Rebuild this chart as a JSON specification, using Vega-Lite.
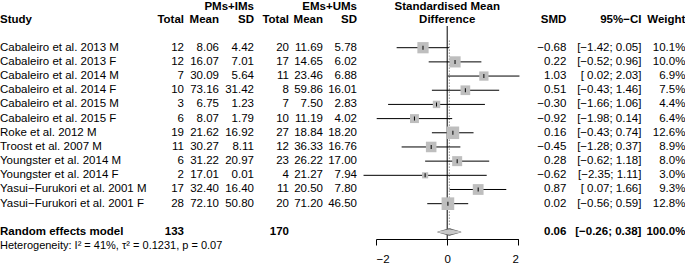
{
  "$schema": "https://vega.github.io/schema/vega-lite/v6.json",
  "background": "white",
  "padding": 0,
  "autosize": {"type": "pad"},
  "spacing": 0,
  "bounds": "flush",
  "config": {
    "view": {"stroke": null},
    "text": {"font": "Liberation Sans", "fontSize": 11.5, "baseline": "middle", "color": "black"},
    "axis": {"labelFont": "Liberation Sans", "labelFontSize": 11.5, "labelColor": "black"}
  },
  "datasets": {
    "studies": [
      {"r": 0, "study": "Cabaleiro et al. 2013 M", "n1": 12, "m1": 8.06, "sd1": 4.42, "n2": 20, "m2": 11.69, "sd2": 5.78, "smd": -0.68, "lo": -1.42, "hi": 0.05, "ci": "[−1.42; 0.05]", "w": 0.101},
      {"r": 1, "study": "Cabaleiro et al. 2013 F", "n1": 12, "m1": 16.07, "sd1": 7.01, "n2": 17, "m2": 14.65, "sd2": 6.02, "smd": 0.22, "lo": -0.52, "hi": 0.96, "ci": "[−0.52; 0.96]", "w": 0.100},
      {"r": 2, "study": "Cabaleiro et al. 2014 M", "n1": 7, "m1": 30.09, "sd1": 5.64, "n2": 11, "m2": 23.46, "sd2": 6.88, "smd": 1.03, "lo": 0.02, "hi": 2.03, "ci": "[ 0.02; 2.03]", "w": 0.069},
      {"r": 3, "study": "Cabaleiro et al. 2014 F", "n1": 10, "m1": 73.16, "sd1": 31.42, "n2": 8, "m2": 59.86, "sd2": 16.01, "smd": 0.51, "lo": -0.43, "hi": 1.46, "ci": "[−0.43; 1.46]", "w": 0.075},
      {"r": 4, "study": "Cabaleiro et al. 2015 M", "n1": 3, "m1": 6.75, "sd1": 1.23, "n2": 7, "m2": 7.50, "sd2": 2.83, "smd": -0.30, "lo": -1.66, "hi": 1.06, "ci": "[−1.66; 1.06]", "w": 0.044},
      {"r": 5, "study": "Cabaleiro et al. 2015 F", "n1": 6, "m1": 8.07, "sd1": 1.79, "n2": 10, "m2": 11.19, "sd2": 4.02, "smd": -0.92, "lo": -1.98, "hi": 0.14, "ci": "[−1.98; 0.14]", "w": 0.064},
      {"r": 6, "study": "Roke et al. 2012 M", "n1": 19, "m1": 21.62, "sd1": 16.92, "n2": 27, "m2": 18.84, "sd2": 18.20, "smd": 0.16, "lo": -0.43, "hi": 0.74, "ci": "[−0.43; 0.74]", "w": 0.126},
      {"r": 7, "study": "Troost et al. 2007 M", "n1": 11, "m1": 30.27, "sd1": 8.11, "n2": 12, "m2": 36.33, "sd2": 16.76, "smd": -0.45, "lo": -1.28, "hi": 0.37, "ci": "[−1.28; 0.37]", "w": 0.089},
      {"r": 8, "study": "Youngster et al. 2014 M", "n1": 6, "m1": 31.22, "sd1": 20.97, "n2": 23, "m2": 26.22, "sd2": 17.00, "smd": 0.28, "lo": -0.62, "hi": 1.18, "ci": "[−0.62; 1.18]", "w": 0.080},
      {"r": 9, "study": "Youngster et al. 2014 F", "n1": 2, "m1": 17.01, "sd1": 0.01, "n2": 4, "m2": 21.27, "sd2": 7.94, "smd": -0.62, "lo": -2.35, "hi": 1.11, "ci": "[−2.35; 1.11]", "w": 0.030},
      {"r": 10, "study": "Yasui−Furukori et al. 2001 M", "n1": 17, "m1": 32.40, "sd1": 16.40, "n2": 11, "m2": 20.50, "sd2": 7.80, "smd": 0.87, "lo": 0.07, "hi": 1.66, "ci": "[ 0.07; 1.66]", "w": 0.093},
      {"r": 11, "study": "Yasui−Furukori et al. 2001 F", "n1": 28, "m1": 72.10, "sd1": 50.80, "n2": 20, "m2": 71.20, "sd2": 46.50, "smd": 0.02, "lo": -0.56, "hi": 0.59, "ci": "[−0.56; 0.59]", "w": 0.128}
    ],
    "pooled": [
      {"r": 13, "label": "Random effects model", "n1": 133, "n2": 170, "smd": 0.06, "lo": -0.26, "hi": 0.38, "ci": "[−0.26; 0.38]", "w": 1.0, "het": "Heterogeneity: I² = 41%, τ² = 0.1231, p = 0.07"}
    ],
    "headers": [
      {"study": "Study", "total": "Total", "mean": "Mean", "sd": "SD", "g1": "PMs+IMs", "g2": "EMs+UMs", "t1": "Standardised Mean", "t2": "Difference", "smd": "SMD", "ci": "95%−CI", "w": "Weight"}
    ]
  },
  "hconcat": [
    {
      "width": 375.2,
      "height": 238,
      "layer": [
        {"data": {"name": "studies"}, "mark": {"type": "text", "align": "left"},
         "encoding": {"x": {"datum": 0, "type": "quantitative", "scale": {"domain": [0, 375.2], "nice": false, "zero": false}, "axis": null},
                      "y": {"field": "r", "type": "quantitative", "scale": {"domain": [-3.2934, 13.491], "reverse": true, "nice": false, "zero": false}, "axis": null},
                      "text": {"field": "study"}}},
        {"data": {"name": "studies"}, "mark": {"type": "text", "align": "right"},
         "encoding": {"x": {"datum": 184, "type": "quantitative", "axis": null}, "y": {"field": "r", "type": "quantitative", "axis": null}, "text": {"field": "n1", "type": "quantitative", "format": "d"}}},
        {"data": {"name": "studies"}, "mark": {"type": "text", "align": "right"},
         "encoding": {"x": {"datum": 219, "type": "quantitative", "axis": null}, "y": {"field": "r", "type": "quantitative", "axis": null}, "text": {"field": "m1", "type": "quantitative", "format": ".2f"}}},
        {"data": {"name": "studies"}, "mark": {"type": "text", "align": "right"},
         "encoding": {"x": {"datum": 254, "type": "quantitative", "axis": null}, "y": {"field": "r", "type": "quantitative", "axis": null}, "text": {"field": "sd1", "type": "quantitative", "format": ".2f"}}},
        {"data": {"name": "studies"}, "mark": {"type": "text", "align": "right"},
         "encoding": {"x": {"datum": 289, "type": "quantitative", "axis": null}, "y": {"field": "r", "type": "quantitative", "axis": null}, "text": {"field": "n2", "type": "quantitative", "format": "d"}}},
        {"data": {"name": "studies"}, "mark": {"type": "text", "align": "right"},
         "encoding": {"x": {"datum": 323, "type": "quantitative", "axis": null}, "y": {"field": "r", "type": "quantitative", "axis": null}, "text": {"field": "m2", "type": "quantitative", "format": ".2f"}}},
        {"data": {"name": "studies"}, "mark": {"type": "text", "align": "right"},
         "encoding": {"x": {"datum": 357, "type": "quantitative", "axis": null}, "y": {"field": "r", "type": "quantitative", "axis": null}, "text": {"field": "sd2", "type": "quantitative", "format": ".2f"}}},
        {"data": {"name": "pooled"}, "mark": {"type": "text", "align": "left", "fontWeight": "bold"},
         "encoding": {"x": {"datum": 0, "type": "quantitative", "axis": null}, "y": {"field": "r", "type": "quantitative", "axis": null}, "text": {"field": "label"}}},
        {"data": {"name": "pooled"}, "mark": {"type": "text", "align": "right", "fontWeight": "bold"},
         "encoding": {"x": {"datum": 184, "type": "quantitative", "axis": null}, "y": {"field": "r", "type": "quantitative", "axis": null}, "text": {"field": "n1", "type": "quantitative", "format": "d"}}},
        {"data": {"name": "pooled"}, "mark": {"type": "text", "align": "right", "fontWeight": "bold"},
         "encoding": {"x": {"datum": 289, "type": "quantitative", "axis": null}, "y": {"field": "r", "type": "quantitative", "axis": null}, "text": {"field": "n2", "type": "quantitative", "format": "d"}}},
        {"data": {"name": "pooled"}, "mark": {"type": "text", "align": "left", "fontSize": 11},
         "encoding": {"x": {"datum": 0, "type": "quantitative", "axis": null}, "y": {"datum": 14, "type": "quantitative", "axis": null}, "text": {"field": "het"}}},
        {"data": {"name": "headers"}, "mark": {"type": "text", "align": "left", "fontWeight": "bold"},
         "encoding": {"x": {"datum": 0, "type": "quantitative", "axis": null}, "y": {"datum": -1.95, "type": "quantitative", "axis": null}, "text": {"field": "study"}}},
        {"data": {"name": "headers"}, "mark": {"type": "text", "align": "right", "fontWeight": "bold"},
         "encoding": {"x": {"datum": 184, "type": "quantitative", "axis": null}, "y": {"datum": -1.95, "type": "quantitative", "axis": null}, "text": {"field": "total"}}},
        {"data": {"name": "headers"}, "mark": {"type": "text", "align": "right", "fontWeight": "bold"},
         "encoding": {"x": {"datum": 219, "type": "quantitative", "axis": null}, "y": {"datum": -1.95, "type": "quantitative", "axis": null}, "text": {"field": "mean"}}},
        {"data": {"name": "headers"}, "mark": {"type": "text", "align": "right", "fontWeight": "bold"},
         "encoding": {"x": {"datum": 254, "type": "quantitative", "axis": null}, "y": {"datum": -1.95, "type": "quantitative", "axis": null}, "text": {"field": "sd"}}},
        {"data": {"name": "headers"}, "mark": {"type": "text", "align": "right", "fontWeight": "bold"},
         "encoding": {"x": {"datum": 289, "type": "quantitative", "axis": null}, "y": {"datum": -1.95, "type": "quantitative", "axis": null}, "text": {"field": "total"}}},
        {"data": {"name": "headers"}, "mark": {"type": "text", "align": "right", "fontWeight": "bold"},
         "encoding": {"x": {"datum": 323, "type": "quantitative", "axis": null}, "y": {"datum": -1.95, "type": "quantitative", "axis": null}, "text": {"field": "mean"}}},
        {"data": {"name": "headers"}, "mark": {"type": "text", "align": "right", "fontWeight": "bold"},
         "encoding": {"x": {"datum": 357, "type": "quantitative", "axis": null}, "y": {"datum": -1.95, "type": "quantitative", "axis": null}, "text": {"field": "sd"}}},
        {"data": {"name": "headers"}, "mark": {"type": "text", "align": "right", "fontWeight": "bold"},
         "encoding": {"x": {"datum": 254, "type": "quantitative", "axis": null}, "y": {"datum": -2.88, "type": "quantitative", "axis": null}, "text": {"field": "g1"}}},
        {"data": {"name": "headers"}, "mark": {"type": "text", "align": "right", "fontWeight": "bold"},
         "encoding": {"x": {"datum": 357, "type": "quantitative", "axis": null}, "y": {"datum": -2.88, "type": "quantitative", "axis": null}, "text": {"field": "g2"}}}
      ]
    },
    {
      "width": 142.4,
      "height": 238,
      "layer": [
        {"data": {"name": "headers"}, "mark": {"type": "rule", "color": "black", "strokeWidth": 1},
         "encoding": {
           "x": {"datum": 0, "type": "quantitative", "scale": {"domain": [-2, 2], "nice": false, "zero": false},
                 "axis": {"values": [-2, -1, 0, 1, 2], "format": "d", "grid": false, "title": null, "tickSize": 6, "labelPadding": 8, "domainColor": "black", "tickColor": "black", "labelAngle": 0}},
           "y": {"datum": -1.53, "type": "quantitative", "scale": {"domain": [-3.2934, 13.491], "reverse": true, "nice": false, "zero": false}, "axis": null},
           "y2": {"datum": 13.491}}},
        {"data": {"name": "pooled"}, "mark": {"type": "rule", "color": "#555", "strokeDash": [1, 2], "strokeWidth": 1},
         "encoding": {"x": {"field": "smd", "type": "quantitative"}, "y": {"datum": -0.5, "type": "quantitative", "axis": null}, "y2": {"datum": 12.6}}},
        {"data": {"name": "studies"}, "mark": {"type": "rule", "color": "black", "strokeWidth": 1},
         "encoding": {"x": {"field": "lo", "type": "quantitative"}, "x2": {"field": "hi"}, "y": {"field": "r", "type": "quantitative", "axis": null}}},
        {"data": {"name": "studies"}, "mark": {"type": "point", "shape": "square", "filled": true, "color": "#bebebe", "opacity": 1, "strokeWidth": 0},
         "encoding": {"x": {"field": "smd", "type": "quantitative"}, "y": {"field": "r", "type": "quantitative", "axis": null},
                      "size": {"field": "w", "type": "quantitative", "scale": {"domain": [0, 0.128], "range": [0, 160]}, "legend": null}}},
        {"data": {"name": "studies"}, "mark": {"type": "tick", "orient": "vertical", "color": "black", "thickness": 1, "size": 4, "opacity": 1},
         "encoding": {"x": {"field": "smd", "type": "quantitative"}, "y": {"field": "r", "type": "quantitative", "axis": null}}},
        {"data": {"name": "pooled"}, "transform": [{"fold": ["lo", "smd", "hi"], "as": ["k", "v"]}],
         "mark": {"type": "trail", "color": "#555"},
         "encoding": {"x": {"field": "v", "type": "quantitative"}, "y": {"field": "r", "type": "quantitative", "axis": null},
                      "size": {"condition": {"test": "datum.k === 'smd'", "value": 7.5}, "value": 0}}},
        {"data": {"name": "pooled"}, "transform": [{"fold": ["lo", "smd", "hi"], "as": ["k", "v"]}],
         "mark": {"type": "trail", "color": "#c8c8c8"},
         "encoding": {"x": {"field": "v", "type": "quantitative"}, "y": {"field": "r", "type": "quantitative", "axis": null},
                      "size": {"condition": {"test": "datum.k === 'smd'", "value": 5.5}, "value": 0}}},
        {"data": {"name": "headers"}, "mark": {"type": "text", "align": "center", "fontWeight": "bold"},
         "encoding": {"x": {"datum": 0, "type": "quantitative"}, "y": {"datum": -2.88, "type": "quantitative", "axis": null}, "text": {"field": "t1"}}},
        {"data": {"name": "headers"}, "mark": {"type": "text", "align": "center", "fontWeight": "bold"},
         "encoding": {"x": {"datum": 0, "type": "quantitative"}, "y": {"datum": -1.95, "type": "quantitative", "axis": null}, "text": {"field": "t2"}}}
      ]
    },
    {
      "width": 167.4,
      "height": 238,
      "layer": [
        {"data": {"name": "studies"}, "mark": {"type": "text", "align": "right"},
         "encoding": {"x": {"datum": 47.4, "type": "quantitative", "scale": {"domain": [0, 167.4], "nice": false, "zero": false}, "axis": null},
                      "y": {"field": "r", "type": "quantitative", "scale": {"domain": [-3.2934, 13.491], "reverse": true, "nice": false, "zero": false}, "axis": null},
                      "text": {"field": "smd", "type": "quantitative", "format": ".2f"}}},
        {"data": {"name": "studies"}, "mark": {"type": "text", "align": "right"},
         "encoding": {"x": {"datum": 122.4, "type": "quantitative", "axis": null}, "y": {"field": "r", "type": "quantitative", "axis": null}, "text": {"field": "ci"}}},
        {"data": {"name": "studies"}, "mark": {"type": "text", "align": "right"},
         "encoding": {"x": {"datum": 166.4, "type": "quantitative", "axis": null}, "y": {"field": "r", "type": "quantitative", "axis": null}, "text": {"field": "w", "type": "quantitative", "format": ".1%"}}},
        {"data": {"name": "pooled"}, "mark": {"type": "text", "align": "right", "fontWeight": "bold"},
         "encoding": {"x": {"datum": 47.4, "type": "quantitative", "axis": null}, "y": {"field": "r", "type": "quantitative", "axis": null}, "text": {"field": "smd", "type": "quantitative", "format": ".2f"}}},
        {"data": {"name": "pooled"}, "mark": {"type": "text", "align": "right", "fontWeight": "bold"},
         "encoding": {"x": {"datum": 122.4, "type": "quantitative", "axis": null}, "y": {"field": "r", "type": "quantitative", "axis": null}, "text": {"field": "ci"}}},
        {"data": {"name": "pooled"}, "mark": {"type": "text", "align": "right", "fontWeight": "bold"},
         "encoding": {"x": {"datum": 166.4, "type": "quantitative", "axis": null}, "y": {"field": "r", "type": "quantitative", "axis": null}, "text": {"field": "w", "type": "quantitative", "format": ".1%"}}},
        {"data": {"name": "headers"}, "mark": {"type": "text", "align": "right", "fontWeight": "bold"},
         "encoding": {"x": {"datum": 47.4, "type": "quantitative", "axis": null}, "y": {"datum": -1.95, "type": "quantitative", "axis": null}, "text": {"field": "smd"}}},
        {"data": {"name": "headers"}, "mark": {"type": "text", "align": "right", "fontWeight": "bold"},
         "encoding": {"x": {"datum": 122.4, "type": "quantitative", "axis": null}, "y": {"datum": -1.95, "type": "quantitative", "axis": null}, "text": {"field": "ci"}}},
        {"data": {"name": "headers"}, "mark": {"type": "text", "align": "right", "fontWeight": "bold"},
         "encoding": {"x": {"datum": 166.4, "type": "quantitative", "axis": null}, "y": {"datum": -1.95, "type": "quantitative", "axis": null}, "text": {"field": "w"}}}
      ]
    }
  ]
}
